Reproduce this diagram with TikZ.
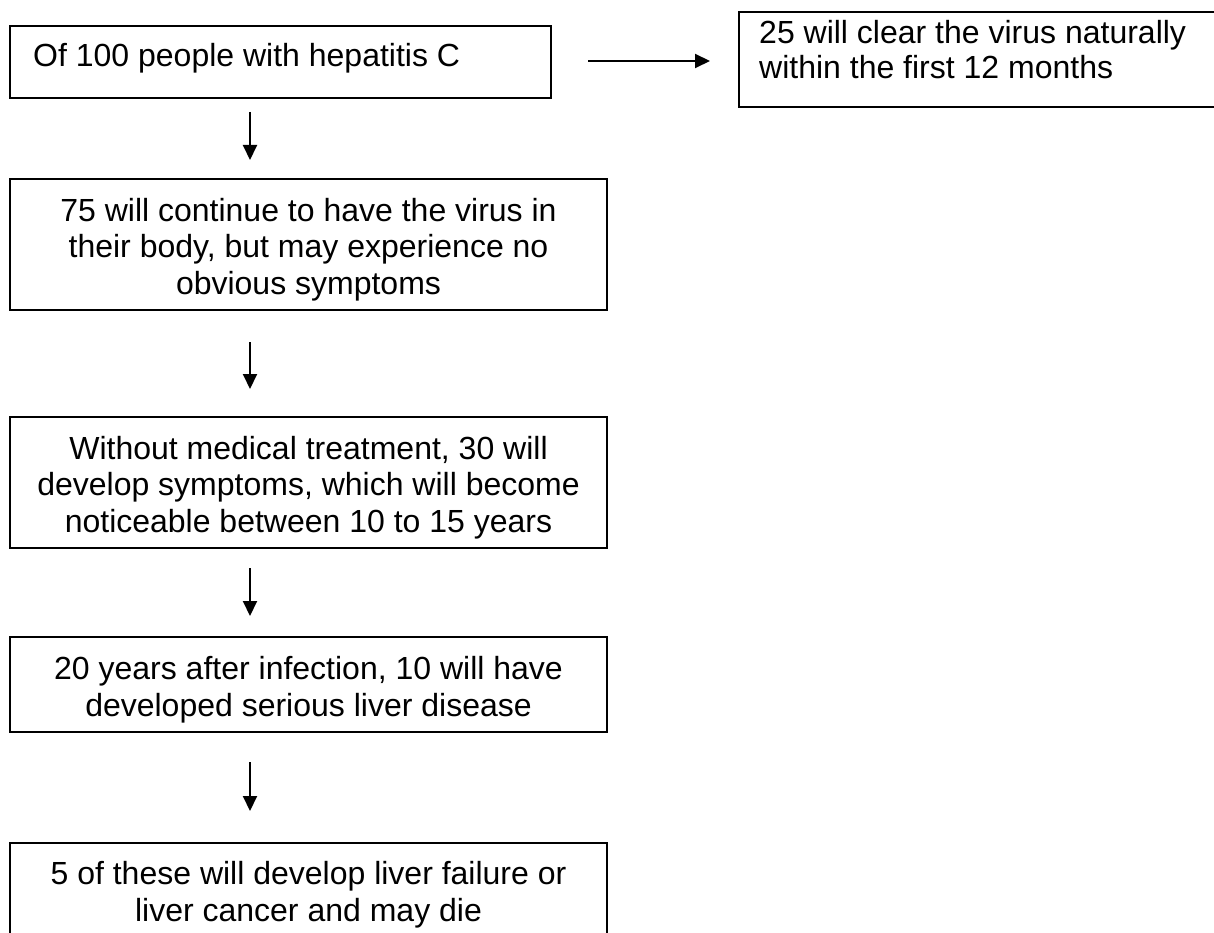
\documentclass[tikz,border=0pt]{standalone}
\usepackage{fontspec}
\setmainfont{Liberation Sans}
\usetikzlibrary{arrows.meta}
\tikzset{
  boxstyle/.style={draw=black, line width=2pt, rectangle, inner sep=0pt},
  txtstyle/.style={inner sep=0pt, align=left, font=\fontsize{32}{35}\selectfont},
  ctxt/.style={inner sep=0pt, align=center, font=\fontsize{32}{36.5}\selectfont},
  arr/.style={line width=2pt, -{Triangle[length=15pt,width=14pt]}}
}
\begin{document}
\begin{tikzpicture}[x=1pt,y=-1pt]
\useasboundingbox (0,0) rectangle (1214,933);
% top row
\node[boxstyle, minimum width=541pt, minimum height=72pt] (b1) at (280.5,62) {};
\node[txtstyle, anchor=base west] (t1) at (33,67) {Of 100 people with hepatitis C};
\node[boxstyle, minimum width=500pt, minimum height=95pt] (b6) at (989,59.5) {};
\node[txtstyle, anchor=base west] (t6) at (759,79) {25 will clear the virus naturally\\within the first 12 months};
% chain
\node[boxstyle, minimum width=597pt, minimum height=131pt] (b2) at (308.5,244.5) {};
\node[ctxt] (t2) at (308.5,249.5)
  {75 will continue to have the virus in\\their body, but may experience no\\obvious symptoms};
\node[boxstyle, minimum width=597pt, minimum height=131pt] (b3) at (308.5,482.5) {};
\node[ctxt] (t3) at (308.5,487.5)
  {Without medical treatment, 30 will\\develop symptoms, which will become\\noticeable between 10 to 15 years};
\node[boxstyle, minimum width=597pt, minimum height=95pt] (b4) at (308.5,684.5) {};
\node[ctxt] (t4) at (308.5,689.5)
  {20 years after infection, 10 will have\\developed serious liver disease};
\node[boxstyle, minimum width=597pt, minimum height=94pt] (b5) at (308.5,890) {};
\node[ctxt] (t5) at (308.5,894.5)
  {5 of these will develop liver failure or\\liver cancer and may die};
% arrow end points
\coordinate (h1) at (588,61);
\coordinate (h2) at (710,61);
\coordinate (a1) at (250,112);
\coordinate (a1e) at (250,160);
\coordinate (a2) at (250,342);
\coordinate (a2e) at (250,389);
\coordinate (a3) at (250,568);
\coordinate (a3e) at (250,616);
\coordinate (a4) at (250,762);
\coordinate (a4e) at (250,811);
\draw[arr] (h1) -- (h2);
\draw[arr] (a1) -- (a1e);
\draw[arr] (a2) -- (a2e);
\draw[arr] (a3) -- (a3e);
\draw[arr] (a4) -- (a4e);
\end{tikzpicture}
\end{document}
